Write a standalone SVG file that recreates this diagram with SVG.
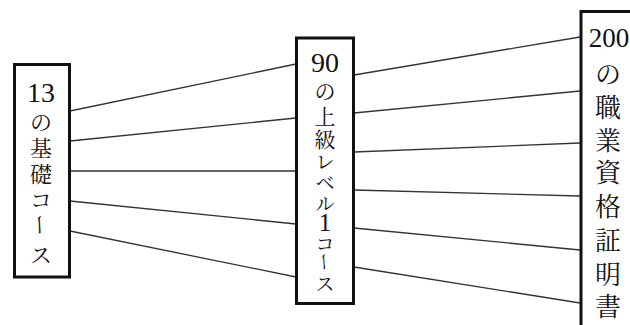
<svg xmlns="http://www.w3.org/2000/svg" width="630" height="325" viewBox="0 0 630 325">
<style>
.box{fill:#fff;stroke:#111;stroke-width:3}
.ln{stroke:#333;stroke-width:1.3;fill:none}
.t{font-family:"Noto Serif CJK JP","Noto Sans CJK JP",serif;font-size:22px;fill:#111;text-anchor:middle;dominant-baseline:central}
.s{font-size:19px}
.m{font-size:21px}
.c{font-size:26px}
.d{font-family:"Liberation Serif","Noto Serif CJK JP",serif;font-size:28px;fill:#111;text-anchor:middle;dominant-baseline:central}
</style>
<rect width="630" height="325" fill="#fff"/>
<g id="connectors">
<line class="ln" x1="70" y1="111" x2="296" y2="64"/>
<line class="ln" x1="70" y1="141" x2="296" y2="118"/>
<line class="ln" x1="70" y1="171" x2="296" y2="171"/>
<line class="ln" x1="70" y1="201" x2="296" y2="224"/>
<line class="ln" x1="70" y1="231" x2="296" y2="277"/>
<line class="ln" x1="354" y1="75" x2="580" y2="37"/>
<line class="ln" x1="354" y1="113" x2="580" y2="91"/>
<line class="ln" x1="354" y1="152" x2="580" y2="143"/>
<line class="ln" x1="354" y1="190" x2="580" y2="196"/>
<line class="ln" x1="354" y1="228" x2="580" y2="250"/>
<line class="ln" x1="354" y1="267" x2="580" y2="303"/>
</g>
<g id="basic">
<rect class="box" x="14.5" y="64.5" width="55" height="212.5"/>
<text class="d" x="41" y="92">13</text>
<text class="t" x="41" y="120">の</text>
<text class="t" x="41" y="146">基</text>
<text class="t" x="41" y="172">礎</text>
<text class="t" x="41" y="198">コ</text>
<text class="t" x="41" y="225" transform="rotate(90 41 225)">ー</text>
<text class="t" x="41" y="253">ス</text>
</g>
<g id="advanced">
<rect class="box" x="296.5" y="38" width="57" height="265.5"/>
<text class="d" x="325" y="62">90</text>
<text class="t m" x="325" y="90">の</text>
<text class="t m" x="325" y="115">上</text>
<text class="t m" x="325" y="138">級</text>
<text class="t s" x="325" y="160">レ</text>
<text class="t s" x="325" y="181">ベ</text>
<text class="t s" x="325" y="202">ル</text>
<text class="d" x="325" y="222" style="font-size:25px">1</text>
<text class="t s" x="325" y="242">コ</text>
<text class="t s" x="325" y="262" transform="rotate(90 325 262)">ー</text>
<text class="t s" x="325" y="282">ス</text>
</g>
<g id="certificates">
<rect class="box" x="581" y="11.5" width="60" height="330"/>
<text class="d" x="609" y="38" style="font-size:27px">200</text>
<text class="t c" x="608" y="72">の</text>
<text class="t c" x="608" y="105">職</text>
<text class="t c" x="608" y="138">業</text>
<text class="t c" x="608" y="170">資</text>
<text class="t c" x="608" y="204">格</text>
<text class="t c" x="608" y="238">証</text>
<text class="t c" x="608" y="272">明</text>
<text class="t c" x="608" y="304">書</text>
</g>
</svg>
